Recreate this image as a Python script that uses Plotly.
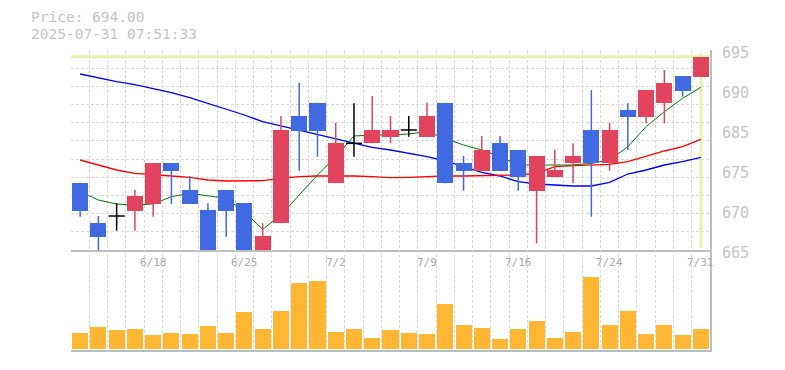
import plotly.graph_objects as go

# ---------------- data ----------------
dates = ["6/12", "6/13", "6/16", "6/17", "6/18", "6/19", "6/20", "6/23", "6/24", "6/25",
         "6/26", "6/27", "6/30", "7/1", "7/2", "7/3", "7/4", "7/7", "7/8", "7/9",
         "7/10", "7/11", "7/14", "7/15", "7/16", "7/17", "7/18", "7/22", "7/23", "7/24",
         "7/25", "7/28", "7/29", "7/30", "7/31"]
opens = [675.1, 669.1, 670.1, 670.9, 671.9, 678.0, 674.0, 671.0, 674.0, 672.0,
         664.5, 669.0, 685.1, 687.1, 675.0, 681.0, 681.0, 682.0, 683.0, 682.0,
         687.1, 678.0, 676.9, 681.0, 680.0, 673.9, 676.0, 678.0, 683.0, 678.0,
         686.0, 685.0, 687.0, 691.1, 691.0]
highs = [675.1, 670.1, 672.0, 674.0, 678.0, 678.0, 676.1, 672.0, 674.0, 672.0,
         669.0, 685.1, 690.1, 687.1, 684.1, 687.0, 688.1, 685.1, 685.1, 687.1,
         687.1, 679.1, 682.1, 682.1, 680.0, 679.1, 680.0, 681.0, 689.0, 684.1,
         687.0, 689.0, 692.0, 691.1, 694.0]
lows = [670.0, 664.5, 667.9, 667.9, 670.0, 671.9, 671.9, 664.0, 667.0, 663.5,
        664.5, 669.0, 676.9, 679.0, 675.0, 679.0, 681.0, 681.0, 682.0, 682.0,
        675.0, 673.9, 676.9, 676.9, 673.9, 666.0, 676.0, 675.0, 670.0, 676.9,
        680.0, 684.0, 684.0, 688.0, 691.0]
closes = [670.9, 667.0, 670.1, 673.1, 678.0, 676.9, 671.9, 664.0, 670.9, 663.5,
          667.1, 683.0, 682.9, 682.9, 681.0, 681.0, 683.0, 683.0, 683.0, 685.1,
          675.0, 676.9, 680.0, 676.9, 676.0, 679.1, 677.0, 679.1, 678.0, 683.0,
          685.0, 689.0, 690.1, 688.9, 694.0]
volumes = [15.3, 21.3, 18.3, 19.3, 13.3, 15.3, 14.3, 22.3, 15.3, 36.3,
           19.3, 37.3, 65.3, 67.3, 16.3, 19.3, 10.3, 18.3, 15.3, 14.3,
           44.3, 23.3, 20.3, 9.3, 19.3, 27.3, 10.3, 16.3, 71.3, 23.3,
           37.3, 14.3, 23.3, 13.3, 19.3]
ma_short = [673.8, 672.5, 671.9, 671.75, 671.9, 673.0, 673.5, 673.1, 672.75, 670.75,
            668.1, 670.25, 673.25, 676.25, 679.0, 682.1, 682.25, 682.25, 682.4, 682.75,
            681.75, 680.75, 680.0, 679.0, 677.75, 677.75, 677.75, 677.75, 678.0, 678.5,
            680.5, 683.5, 685.75, 687.75, 689.4]
ma_mid = [678.5, 677.75, 677.0, 676.5, 676.35, 676.1, 675.9, 675.5, 675.35, 675.4,
          675.4, 675.75, 676.0, 676.1, 676.15, 676.1, 676.0, 675.85, 675.9, 676.05,
          676.1, 676.1, 676.15, 676.25, 676.25, 676.5, 677.5, 677.65, 677.7, 677.85,
          678.25, 679.1, 679.85, 680.5, 681.6]
ma_long = [691.4, 690.8, 690.25, 689.8, 689.25, 688.6, 687.85, 687.0, 686.15, 685.25,
           684.25, 683.6, 682.9, 682.25, 681.6, 680.95, 680.4, 680.0, 679.5, 679.0,
           678.35, 677.5, 676.65, 676.1, 675.25, 674.9, 674.75, 674.6, 674.6, 675.15,
           676.4, 677.0, 677.75, 678.25, 678.9]
label_dates = ["6/18", "6/25", "7/2", "7/9", "7/16", "7/24", "7/31"]
price_tick_vals = [665, 671, 677, 683, 689, 695]
price_tick_text = ["665", "670", "675", "685", "690", "695"]
last_price = 694.00
timestamp = "2025-07-31 07:51:33"

# ---------------- styling ----------------
UP = "#e2445f"
DOWN = "#4169e1"
DOJI = "#000000"
VOL = "#ffb733"
GRID = "#d9d9d9"
AXIS = "#bdbdbd"
CUR = "#e6f5ad"

n = len(dates)
xs = list(range(n))
ymin, ymax = 665, 695
ygrid = [ymin + k * (ymax - ymin) / 11 for k in range(12)]
xgrid = [i - 0.5 for i in range(n + 1)]

colors = []
for o, c in zip(opens, closes):
    if c > o:
        colors.append(UP)
    elif c < o:
        colors.append(DOWN)
    else:
        colors.append(DOJI)

fig = go.Figure()

# current price guides (main axes, underneath)
fig.add_trace(go.Scatter(x=[-0.5, n - 0.5], y=[last_price, last_price], mode="lines",
                         line=dict(color=CUR, width=3), hoverinfo="skip", showlegend=False))
fig.add_trace(go.Scatter(x=[n - 1, n - 1], y=[ymin + 0.3, ymax - 0.5], mode="lines",
                         line=dict(color=CUR, width=3), hoverinfo="skip", showlegend=False))

# moving averages
fig.add_trace(go.Scatter(x=xs, y=ma_long, mode="lines", line=dict(color="#0000ff", width=1.3),
                         showlegend=False))
fig.add_trace(go.Scatter(x=xs, y=ma_mid, mode="lines", line=dict(color="#ff0000", width=1.3),
                         showlegend=False))
fig.add_trace(go.Scatter(x=xs, y=ma_short, mode="lines", line=dict(color="#007a00", width=1),
                         showlegend=False))

# candles on overlay axis (drawn above lines)
for col in (UP, DOWN, DOJI):
    wx, wy = [], []
    for i in range(n):
        if colors[i] != col:
            continue
        wx += [i, i, None]
        wy += [lows[i], highs[i], None]
        if col == DOJI:
            wx += [i - 0.44, i + 0.44, None]
            wy += [closes[i], closes[i], None]
    fig.add_trace(go.Scatter(x=wx, y=wy, mode="lines", line=dict(color=col, width=1.5),
                             xaxis="x", yaxis="y3", showlegend=False, hoverinfo="skip"))

body_x = [i for i in range(n) if colors[i] != DOJI]
fig.add_trace(go.Bar(
    x=body_x,
    base=[min(opens[i], closes[i]) for i in body_x],
    y=[abs(closes[i] - opens[i]) for i in body_x],
    marker=dict(color=[colors[i] for i in body_x], line=dict(width=0)),
    width=0.88, xaxis="x", yaxis="y3", showlegend=False))

# volume
fig.add_trace(go.Bar(x=xs, y=volumes, marker=dict(color=VOL, line=dict(width=0)),
                     width=0.88, xaxis="x2", yaxis="y2", showlegend=False))

common_x = dict(range=[-0.5, n - 0.5], tickmode="array", tickvals=xgrid,
                showticklabels=False, ticks="", showgrid=True, gridcolor=GRID,
                griddash="3px,2px", gridwidth=1, zeroline=False,
                showline=True, linecolor=AXIS, linewidth=1.5)

annotations = []
for d in label_dates:
    annotations.append(dict(x=dates.index(d), y=(350 - 262) / 300, xref="x2", yref="paper",
                            text=d, showarrow=False, xanchor="center", yanchor="middle",
                            font=dict(family="DejaVu Sans Mono", size=11, color="#aaaaaa")))
for v, t in zip(price_tick_vals, price_tick_text):
    annotations.append(dict(x=(720 - 71) / 639, y=v, xref="paper", yref="y", text=t,
                            showarrow=False, xanchor="left", yanchor="middle", yshift=-3,
                            font=dict(family="DejaVu Sans Mono", size=15, color="#c4c4c4")))
annotations.append(dict(x=(29 - 71) / 639, y=(350 - 17.5) / 300, xref="paper", yref="paper",
                        text=f"Price: {last_price:.2f}", showarrow=False, xanchor="left",
                        yanchor="middle",
                        font=dict(family="DejaVu Sans Mono", size=14.5, color="#c4c4c4")))
annotations.append(dict(x=(29 - 71) / 639, y=(350 - 33.5) / 300, xref="paper", yref="paper",
                        text=timestamp, showarrow=False, xanchor="left", yanchor="middle",
                        font=dict(family="DejaVu Sans Mono", size=14.5, color="#c4c4c4")))

fig.update_layout(
    width=785, height=370,
    margin=dict(l=71, r=75, t=50, b=20),
    paper_bgcolor="white", plot_bgcolor="white",
    barmode="overlay", bargap=0,
    xaxis=dict(anchor="y", **common_x),
    xaxis2=dict(anchor="y2", matches="x", **common_x),
    yaxis=dict(domain=[1 / 3, 1], range=[ymin, ymax], side="right", tickmode="array",
               tickvals=ygrid, showticklabels=False, ticks="", showgrid=True,
               gridcolor=GRID, griddash="3px,2px", zeroline=False,
               showline=True, linecolor=AXIS, linewidth=1.5),
    yaxis3=dict(overlaying="y", range=[ymin, ymax], visible=False, showgrid=False),
    yaxis2=dict(domain=[0, 1 / 3], range=[-1.5, 98.5], side="right", showticklabels=False,
                ticks="", showgrid=False, zeroline=False,
                showline=True, linecolor=AXIS, linewidth=1.5),
    annotations=annotations,
    showlegend=False,
)

fig.write_html("out.html")
